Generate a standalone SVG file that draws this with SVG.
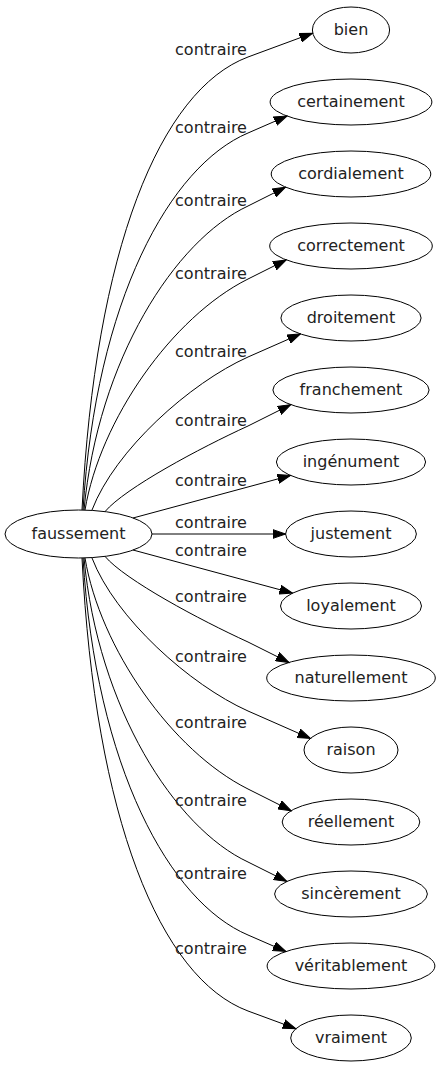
<svg xmlns="http://www.w3.org/2000/svg" width="443" height="1067" viewBox="0 0 443 1067">
<defs>
<marker id="arr" markerUnits="userSpaceOnUse" markerWidth="14" markerHeight="10" refX="13" refY="0" viewBox="0 -5 14 10" orient="auto">
<path d="M0,-4.5 L13,0 L0,4.5 z" fill="#000" stroke="#000" stroke-width="1"/>
</marker>
</defs>
<style>
.n ellipse{fill:none;stroke:#000;stroke-width:1}
text{font-family:"DejaVu Sans","Verdana",sans-serif;font-size:16px;fill:#222;text-anchor:middle}
.e path{fill:none;stroke:#000;stroke-width:1;marker-end:url(#arr)}
</style>
<rect width="443" height="1067" fill="#fff"/>
<g class="e" id="edges">
<path d="M82,510 C95,250 160,90 248,57 L312.5,33.2"/>
<path d="M83,510 C96,300 170,166 248,133 L287,116"/>
<path d="M84,510 C98,360 175,240 248,206 L285.5,187.2"/>
<path d="M85,510 C100,420 172,317 248,279 L286.2,259.9"/>
<path d="M92,510 C115,450 190,383 248,357 L300.5,333.9"/>
<path d="M105,511.6 C125,488 200,448 248,426 L290.8,404.6"/>
<path d="M133,518 L290.5,475.5"/>
<path d="M152,534 L285.6,534"/>
<path d="M133,550 L292.5,593.1"/>
<path d="M105,556.4 C125,580 200,620 248,642 L289,662.5"/>
<path d="M92,558 C115,618 190,685 248,711 L310.5,738.5"/>
<path d="M85,558 C100,648 172,751 248,789 L291.2,810.7"/>
<path d="M84,558 C98,708 175,828 248,862 L286.8,881.4"/>
<path d="M83,558 C96,768 170,902 248,935 L285.9,951.5"/>
<path d="M82,558 C95,818 160,978 248,1011 L295.8,1028.6"/>
<text x="211" y="55">contraire</text>
<text x="211" y="132.5">contraire</text>
<text x="211" y="205.5">contraire</text>
<text x="211" y="278.5">contraire</text>
<text x="211" y="356.5">contraire</text>
<text x="211" y="425.5">contraire</text>
<text x="211" y="485.5">contraire</text>
<text x="211" y="528">contraire</text>
<text x="211" y="556">contraire</text>
<text x="211" y="601.5">contraire</text>
<text x="211" y="661.5">contraire</text>
<text x="211" y="727.5">contraire</text>
<text x="211" y="805.5">contraire</text>
<text x="211" y="878.5">contraire</text>
<text x="211" y="953.5">contraire</text>
</g>
<g class="n" id="faussement"><ellipse cx="78.5" cy="534" rx="73.5" ry="24"/><text x="78.5" y="539">faussement</text></g>
<g class="n" id="bien"><ellipse cx="351" cy="30" rx="38.6" ry="23"/><text x="351" y="35">bien</text></g>
<g class="n" id="certainement"><ellipse cx="351" cy="102" rx="80.9" ry="23"/><text x="351" y="107">certainement</text></g>
<g class="n" id="cordialement"><ellipse cx="351" cy="174" rx="79.8" ry="23"/><text x="351" y="179">cordialement</text></g>
<g class="n" id="correctement"><ellipse cx="351" cy="246" rx="81.3" ry="23"/><text x="351" y="251">correctement</text></g>
<g class="n" id="droitement"><ellipse cx="351" cy="318" rx="70.1" ry="23"/><text x="351" y="323">droitement</text></g>
<g class="n" id="franchement"><ellipse cx="351" cy="390" rx="78.1" ry="23"/><text x="351" y="395">franchement</text></g>
<g class="n" id="ingenument"><ellipse cx="351" cy="462" rx="74.6" ry="23"/><text x="351" y="467">ingénument</text></g>
<g class="n" id="justement"><ellipse cx="351" cy="534" rx="65.4" ry="23"/><text x="351" y="539">justement</text></g>
<g class="n" id="loyalement"><ellipse cx="351" cy="606" rx="70.5" ry="23"/><text x="351" y="611">loyalement</text></g>
<g class="n" id="naturellement"><ellipse cx="351" cy="678" rx="84.3" ry="23"/><text x="351" y="683">naturellement</text></g>
<g class="n" id="raison"><ellipse cx="351" cy="750" rx="47" ry="23"/><text x="351" y="755">raison</text></g>
<g class="n" id="reellement"><ellipse cx="351" cy="822" rx="68.8" ry="23"/><text x="351" y="827">réellement</text></g>
<g class="n" id="sincerement"><ellipse cx="351" cy="894" rx="76.4" ry="23"/><text x="351" y="899">sincèrement</text></g>
<g class="n" id="veritablement"><ellipse cx="351" cy="966" rx="83.9" ry="23"/><text x="351" y="971">véritablement</text></g>
<g class="n" id="vraiment"><ellipse cx="351" cy="1038" rx="60.3" ry="23"/><text x="351" y="1043">vraiment</text></g>
</svg>
